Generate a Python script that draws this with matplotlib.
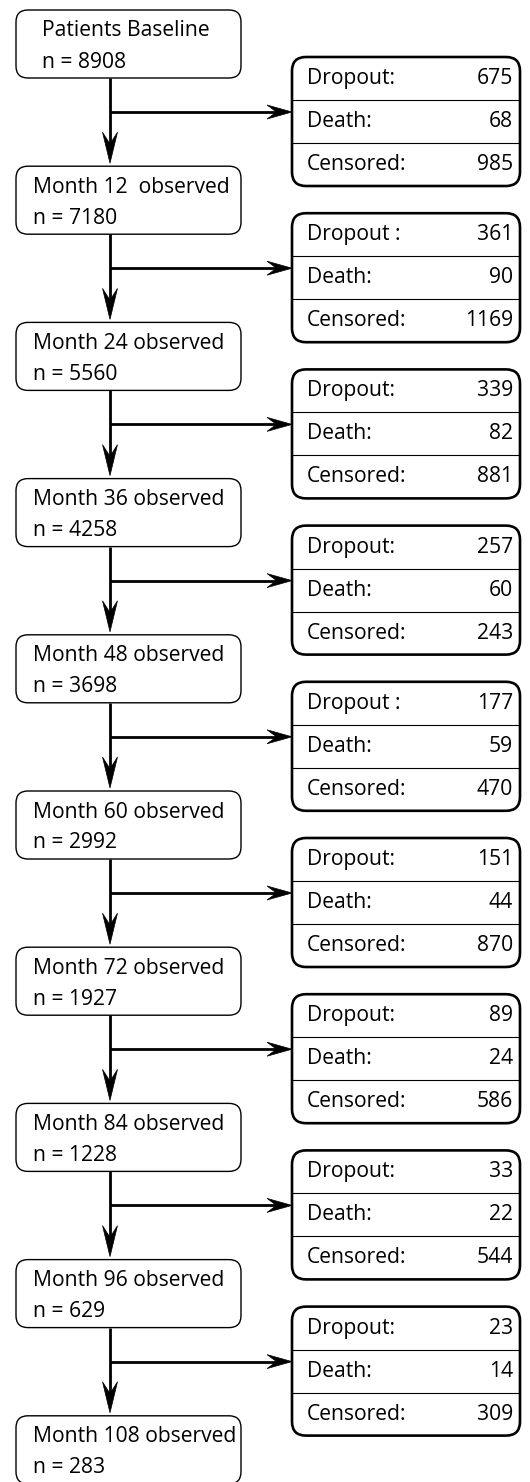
import matplotlib
matplotlib.use("Agg")
import matplotlib.pyplot as plt
from matplotlib.patches import FancyBboxPatch, Polygon

# flow data
stage_titles = ["Patients Baseline", "Month 12  observed", "Month 24 observed",
                "Month 36 observed", "Month 48 observed", "Month 60 observed",
                "Month 72 observed", "Month 84 observed", "Month 96 observed",
                "Month 108 observed"]
n_observed = [8908, 7180, 5560, 4258, 3698, 2992, 1927, 1228, 629, 283]

dropout_labels = ["Dropout:", "Dropout :", "Dropout:", "Dropout:", "Dropout :",
                  "Dropout:", "Dropout:", "Dropout:", "Dropout:"]
dropout = [675, 361, 339, 257, 177, 151, 89, 33, 23]
death = [68, 90, 82, 60, 59, 44, 24, 22, 14]
censored = [985, 1169, 881, 243, 470, 870, 586, 544, 309]

W, H = 530, 1482
fig = plt.figure(figsize=(W / 100, H / 100), dpi=100)
ax = fig.add_axes([0, 0, 1, 1])
ax.set_xlim(0, W)
ax.set_ylim(H, 0)
ax.axis("off")

font = "Open Sans"
fs = 15.2
step = 156.2

left_x0, left_x1 = 16, 241
right_x0, right_x1 = 292, 520
stem_x = 110


def head(tip, direction, length, width):
    # stealth-like arrow head, tip in pixel coords
    tx, ty = tip
    if direction == "down":
        pts = [(tx, ty), (tx - width / 2, ty - length), (tx, ty - length * 0.62),
               (tx + width / 2, ty - length)]
    else:
        pts = [(tx, ty), (tx - length, ty - width / 2), (tx - length * 0.62, ty),
               (tx - length, ty + width / 2)]
    ax.add_patch(Polygon(pts, closed=True, fc="black", ec="black", lw=0.5, zorder=4))


for i, (title, n) in enumerate(zip(stage_titles, n_observed)):
    top = 10 + i * step
    ax.add_patch(FancyBboxPatch((left_x0, top), left_x1 - left_x0, 68,
                                boxstyle="round,pad=0,rounding_size=12",
                                fc="white", ec="black", lw=1.0, zorder=2))
    tx = 42 if i == 0 else 33
    ax.text(tx, top + 21, title, fontsize=fs, family=font, va="center", ha="left", zorder=3)
    ax.text(tx, top + 52, f"n = {n}", fontsize=fs, family=font, va="center", ha="left", zorder=3)

for i in range(len(dropout)):
    box_top = 10 + i * step + 68
    next_top = 10 + (i + 1) * step
    branch_y = 112 + i * step
    # vertical stem
    ax.plot([stem_x, stem_x], [box_top, next_top - 20], color="black", lw=2.0,
            solid_capstyle="butt", zorder=3)
    head((stem_x, next_top - 3), "down", 31, 15)
    # horizontal branch
    ax.plot([stem_x, right_x0 - 15], [branch_y, branch_y], color="black", lw=2.0,
            solid_capstyle="butt", zorder=3)
    head((right_x0, branch_y), "right", 25, 14)

    rt = 57 + i * step
    rh = 129
    ax.add_patch(FancyBboxPatch((right_x0, rt), right_x1 - right_x0, rh,
                                boxstyle="round,pad=0,rounding_size=14",
                                fc="white", ec="black", lw=1.9, zorder=2))
    for k in (1, 2):
        yy = rt + rh * k / 3
        ax.plot([right_x0, right_x1], [yy, yy], color="black", lw=0.8, zorder=3)
    rows = [(dropout_labels[i], dropout[i]), ("Death:", death[i]), ("Censored:", censored[i])]
    for k, (lab, val) in enumerate(rows):
        yy = rt + rh * (k + 0.5) / 3
        ax.text(right_x0 + 15, yy, lab, fontsize=fs, family=font, va="center", ha="left", zorder=3)
        ax.text(right_x1 - 7, yy, str(val), fontsize=fs, family=font, va="center", ha="right", zorder=3)

fig.savefig("out.png", dpi=100)
